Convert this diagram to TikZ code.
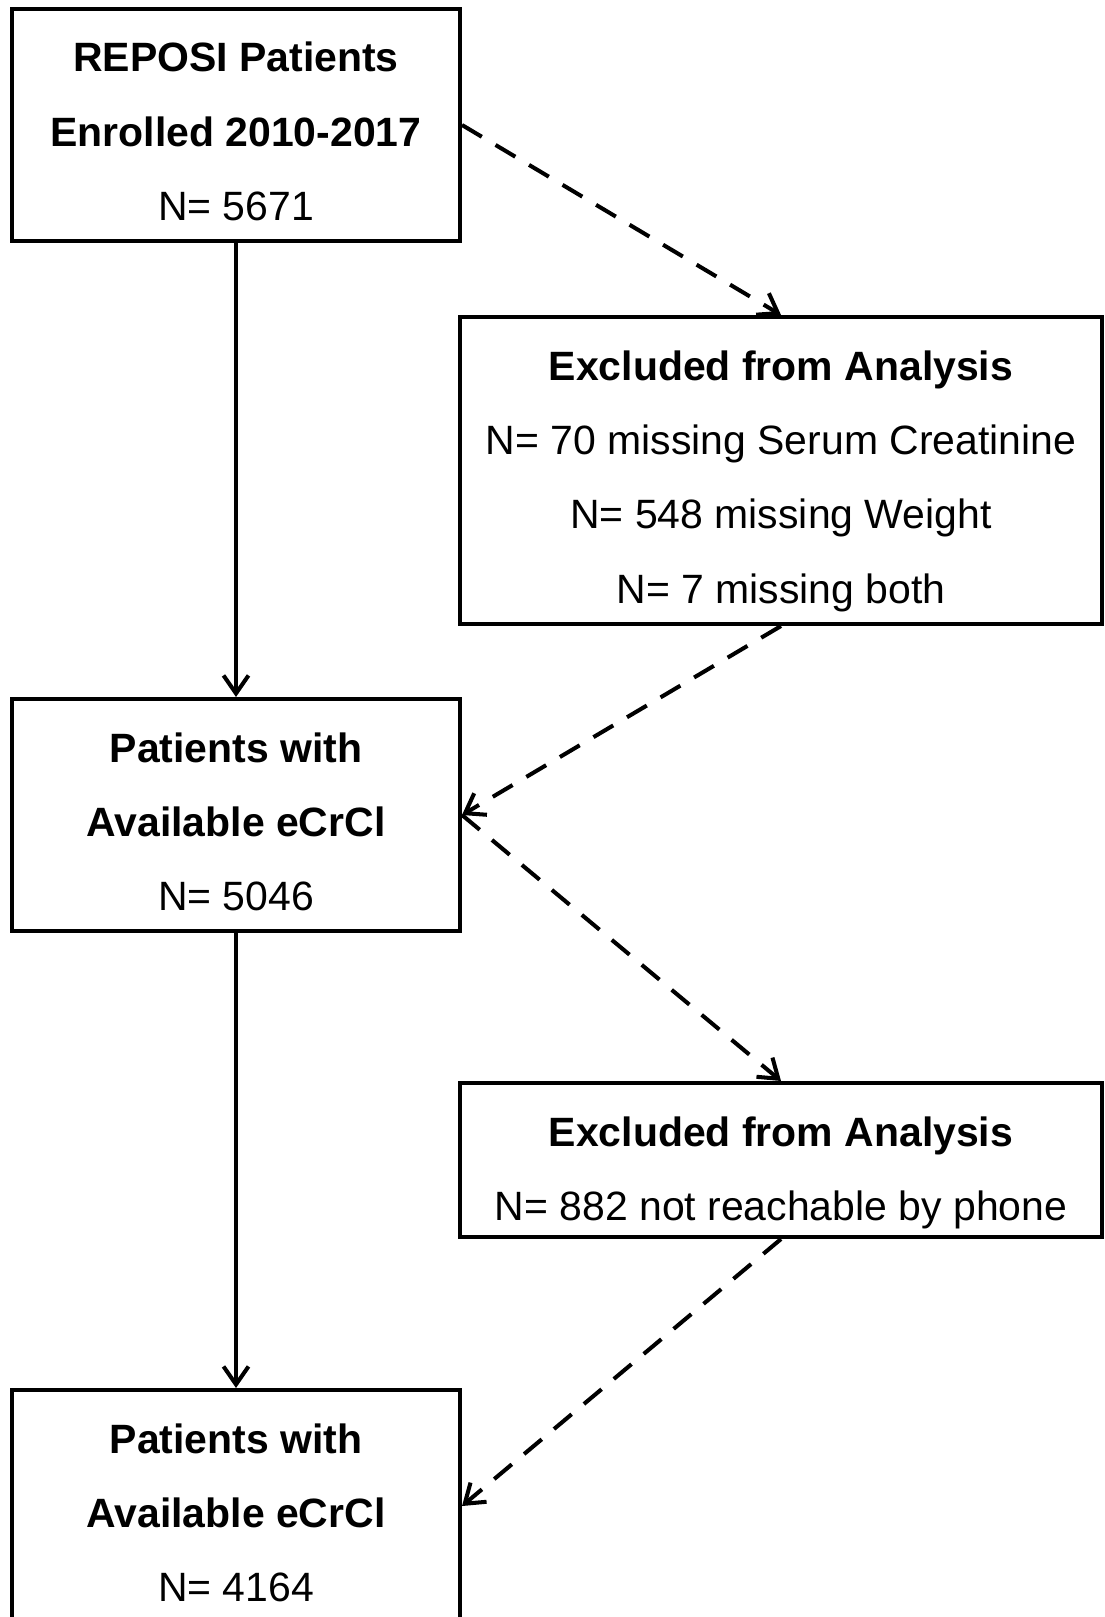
\documentclass[tikz,border=0pt]{standalone}
\usepackage{fontspec}
\setmainfont{Liberation Sans}
\usepackage{tikz}
\usetikzlibrary{arrows.meta, positioning, calc}

\begin{document}
\begin{tikzpicture}[
        box/.style={draw, line width=2.3pt, inner sep=0pt},
        lines/.style={anchor=north, yshift=-0.7cm, align=center, inner sep=0pt,
            font=\fontsize{23.3}{42.3}\selectfont},
        leftbox/.style={box, minimum width=8.96cm, minimum height=4.64cm},
        rightbox/.style={box, minimum width=12.84cm},
        flow/.style={line width=2.3pt, -{Straight Barb[length=0.36cm, width=0.5cm, line width=2.3pt]}},
        skip/.style={flow, dash pattern=on 0.46cm off 0.32cm}
    ]
        \useasboundingbox (0,0) rectangle (22.08,-32.34);

        \node[leftbox, label={[lines]north:{\textbf{REPOSI Patients}\\ \textbf{Enrolled 2010-2017}\\ N= 5671}}] at (4.72,-2.5) (enrolled) {};
        \node[rightbox, minimum height=6.14cm, label={[lines]north:{\textbf{Excluded from Analysis}\\ N= 70 missing Serum Creatinine\\ N= 548 missing Weight\\ N= 7 missing both}}] at (15.62,-9.41) (excl1) {};
        \node[leftbox, label={[lines]north:{\textbf{Patients with}\\ \textbf{Available eCrCl}\\ N= 5046}}] at (4.72,-16.3) (avail1) {};
        \node[rightbox, minimum height=3.08cm, label={[lines]north:{\textbf{Excluded from Analysis}\\ N= 882 not reachable by phone}}] at (15.62,-23.2) (excl2) {};
        \node[leftbox, label={[lines]north:{\textbf{Patients with}\\ \textbf{Available eCrCl}\\ N= 4164}}] at (4.72,-30.12) (avail2) {};

        \draw[flow] (enrolled) -- (avail1);
        \draw[flow] (avail1) -- (avail2);

        \draw[skip] (enrolled.east) -- (excl1.north);
        \draw[skip] (excl1.south) -- (avail1.east);
        \draw[skip] (avail1.east) -- (excl2.north);
        \draw[skip] (excl2.south) -- (avail2.east);
    \end{tikzpicture}
\end{document}
